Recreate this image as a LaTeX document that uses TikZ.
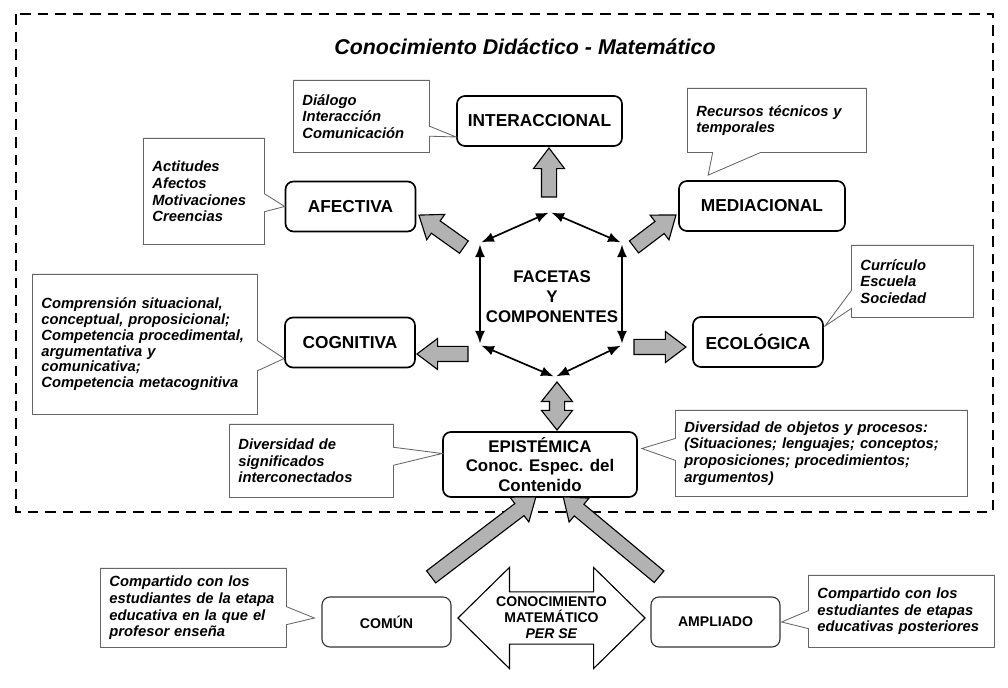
\documentclass[tikz,border=0pt]{standalone}
\usepackage{fontspec}
\setmainfont{Liberation Sans}
\usetikzlibrary{calc,arrows.meta,shapes.arrows,shapes.callouts}

\newcommand{\grayarrow}[2]{%
  \path let \p1=($(#2)-(#1)$), \n1={veclen(\x1,\y1)} in
    (#1) -- node[grayarrow, minimum height=\n1] {} (#2);}

\begin{document}
\begin{tikzpicture}[x=0.025cm, y=-0.025cm,
  facetbox/.style={draw, line width=1.2pt, rounded corners=0.2cm, align=center,
    font=\bfseries\fontsize{12.3}{14}\selectfont, minimum width=3.25cm, minimum height=1.25cm},
  knowbox/.style={draw=black!80, line width=0.8pt, rounded corners=0.2cm,
    font=\bfseries\fontsize{10}{12}\selectfont, minimum width=3.225cm, minimum height=1.25cm},
  notebox/.style={rectangle callout, draw=black!60, line width=0.6pt, fill=white,
    anchor=north west, align=left, inner xsep=0.225cm, inner ysep=0pt,
    callout pointer width=0.45cm, font=\bfseries\itshape\fontsize{10.5}{11.8}\selectfont},
  hexedge/.style={{Latex[length=9pt,width=7pt]}-{Latex[length=9pt,width=7pt]},
    line width=1.2pt, shorten <=1pt, shorten >=1pt},
  grayarrow/.style={single arrow, draw, line width=0.8pt, fill=gray!60,
    inner xsep=0pt, inner ysep=0.175cm, minimum width=0.75cm,
    single arrow head extend=0.2cm, single arrow tip angle=74,
    midway, sloped, allow upside down},
  doublegray/.style={double arrow, draw, line width=0.8pt, fill=gray!60,
    inner xsep=0pt, inner ysep=0.175cm, minimum width=0.75cm,
    double arrow head extend=0.2cm, double arrow tip angle=77}]
\useasboundingbox (0,0) rectangle (1008,688);

% marco
\draw[line width=1.5pt, dash pattern=on 7.5pt off 5pt] (16,14) rectangle (993,512);
\node[font=\bfseries\itshape\fontsize{15.2}{17}\selectfont] (titulo) at (525,47)
  {Conocimiento Didáctico - Matemático};

% facetas
\node[facetbox, minimum width=4.125cm] (interaccional) at (539.5,121) {INTERACCIONAL};
\node[facetbox] (afectiva) at (350.5,206.5) {AFECTIVA};
\node[facetbox, minimum width=4.15cm] (mediacional) at (762,206) {MEDIACIONAL};
\node[facetbox] (cognitiva) at (350,342.5) {COGNITIVA};
\node[facetbox] (ecologica) at (758,342) {ECOLÓGICA};
\node[facetbox, minimum width=4.85cm, minimum height=1.625cm,
  font=\bfseries\fontsize{12}{13.9}\selectfont] (epistemica) at (540,464.5)
  {EPISTÉMICA\\Conoc. Espec. del\\Contenido};

% hexagono
\coordinate (ht) at (550,212);
\coordinate (hur) at (622,243);
\coordinate (hlr) at (622,345);
\coordinate (hb) at (555,377);
\coordinate (hll) at (480,345);
\coordinate (hul) at (480,243);
\foreach \a/\b in {ht/hur,hur/hlr,hlr/hb,hb/hll,hll/hul,hul/ht}
  \draw[hexedge] (\a) -- (\b);
\node[font=\bfseries\fontsize{12}{14.2}\selectfont, align=center] (facetas) at (552,297)
  {FACETAS\\Y\\COMPONENTES};

% flechas grises
\coordinate (inta) at (549,202);   \coordinate (intb) at (549,153);
\coordinate (afea) at (468,250);   \coordinate (afeb) at (423,218);
\coordinate (meda) at (630,250);   \coordinate (medb) at (672,218);
\coordinate (coga) at (473,354);   \coordinate (cogb) at (422,354);
\coordinate (ecoa) at (629,347);   \coordinate (ecob) at (681,347);
\coordinate (coma) at (427,580);   \coordinate (comb) at (532,500);
\coordinate (ampa) at (663,580);   \coordinate (ampb) at (567,500);
\grayarrow{inta}{intb}
\grayarrow{afea}{afeb}
\grayarrow{meda}{medb}
\grayarrow{coga}{cogb}
\grayarrow{ecoa}{ecob}
\grayarrow{coma}{comb}
\grayarrow{ampa}{ampb}
\node[doublegray, rotate=90, minimum height=1.2cm] (enlace) at (557,406) {};

% notas
\node[notebox, text width=2.95cm, minimum height=1.8cm, callout pointer width=0.25cm,
  callout absolute pointer={($(interaccional.west)+(0,16)$)}] (ndialogo) at (293,80)
  {Diálogo\\Interacción\\Comunicación};
\node[notebox, text width=2.575cm, minimum height=2.65cm,
  callout absolute pointer={(afectiva.west)}] (nafectiva) at (143,138)
  {Actitudes\\Afectos\\Motivaciones\\Creencias};
\node[notebox, text width=4.025cm, minimum height=1.6cm, callout pointer width=1.2cm,
  callout absolute pointer={($(mediacional.north west)+(30,-5)$)}] (nrecursos) at (687,88)
  {Recursos técnicos y\\temporales};
\node[notebox, text width=5.175cm, minimum height=3.5cm, callout pointer width=0.75cm,
  font=\bfseries\itshape\fontsize{10.5}{11.2}\selectfont,
  callout absolute pointer={($(cognitiva.west)+(0,16)$)}] (ncognitiva) at (32,274)
  {Comprensión situacional,\\conceptual, proposicional;\\Competencia procedimental,\\argumentativa y\\comunicativa;\\Competencia metacognitiva};
\node[notebox, text width=2.6cm, minimum height=1.8cm,
  callout absolute pointer={($(ecologica.north east)+(1,10)$)}] (necologica) at (851,245)
  {Currículo\\Escuela\\Sociedad};
\node[notebox, text width=3.65cm, minimum height=1.825cm,
  callout absolute pointer={($(epistemica.west)+(0,-11)$)}] (nsignificados) at (229,424)
  {Diversidad de\\significados\\interconectados};
\node[notebox, text width=6.85cm, minimum height=2.15cm, callout pointer width=0.55cm,
  callout absolute pointer={($(epistemica.east)+(4,-16)$)}] (nobjetos) at (675,410)
  {Diversidad de objetos y procesos:\\(Situaciones; lenguajes; conceptos;\\proposiciones; procedimientos;\\argumentos)};

% conocimiento matematico per se
\node[knowbox] (comun) at (386.5,622) {COMÚN};
\node[knowbox] (ampliado) at (715.5,622) {AMPLIADO};
\node[double arrow, draw, line width=0.8pt, fill=white,
  inner xsep=0pt, inner ysep=0.6375cm, minimum width=2.5cm, minimum height=4.675cm,
  double arrow head extend=0.6125cm, double arrow tip angle=89] (flechamat) at (551.5,618) {};
\node[font=\bfseries\fontsize{10}{11.4}\selectfont, align=center] (permat) at (flechamat)
  {CONOCIMIENTO\\MATEMÁTICO\\\textit{PER SE}};
\node[notebox, text width=4.2cm, minimum height=1.975cm,
  callout absolute pointer={($(comun.west)+(-7,-4)$)}] (ncomun) at (100,568)
  {Compartido con los\\estudiantes de la etapa\\educativa en la que el\\profesor enseña};
\node[notebox, text width=4.2cm, minimum height=1.8cm,
  callout absolute pointer={($(ampliado.east)+(1,0)$)}] (nampliado) at (808,575)
  {Compartido con los\\estudiantes de etapas\\educativas posteriores};
\end{tikzpicture}
\end{document}
